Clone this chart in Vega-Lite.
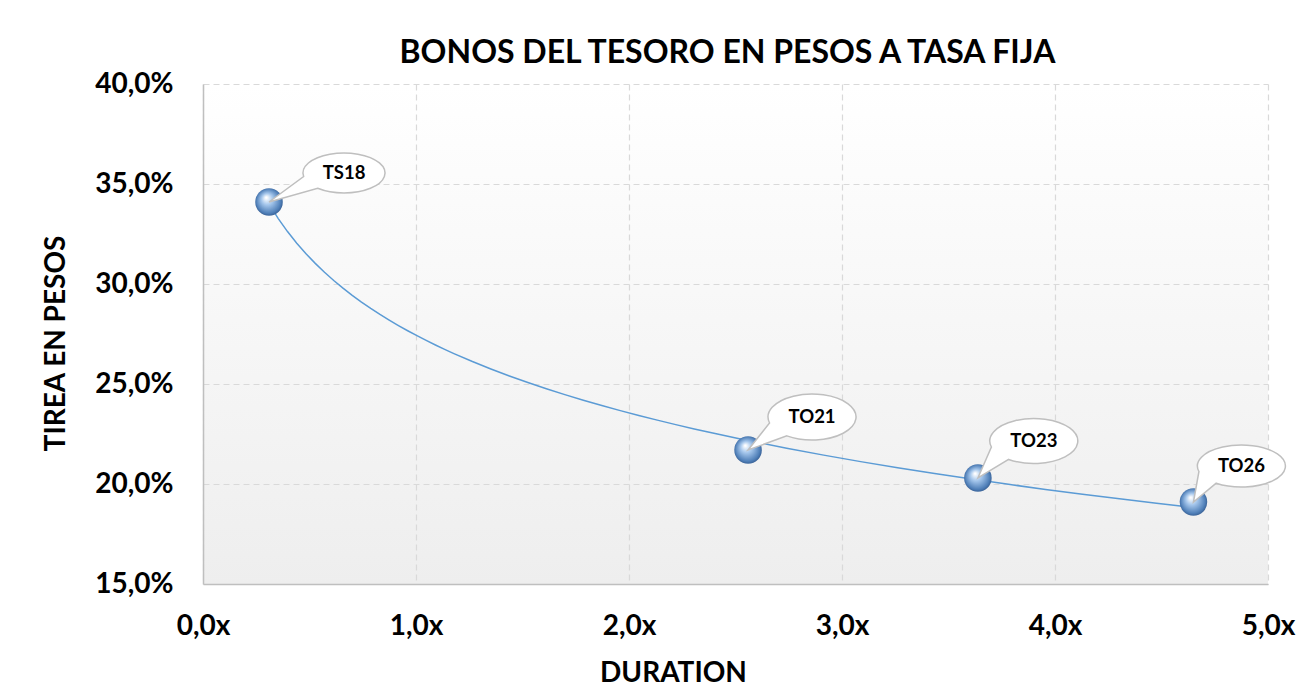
{
  "$schema": "https://vega.github.io/schema/vega-lite/v6.json",
  "width": 1065,
  "height": 500,
  "autosize": {"type": "none"},
  "padding": {"left": 203, "top": 84, "right": 39, "bottom": 107},
  "background": "white",
  "view": {
    "stroke": null,
    "fill": {
      "gradient": "linear",
      "x1": 0, "y1": 0, "x2": 0, "y2": 1,
      "stops": [
        {"offset": 0, "color": "#ffffff"},
        {"offset": 1, "color": "#eeeeee"}
      ]
    }
  },
  "title": {
    "text": "BONOS DEL TESORO EN PESOS A TASA FIJA",
    "font": "Lato",
    "fontSize": 32,
    "fontWeight": "bold",
    "color": "#000000",
    "anchor": "middle",
    "offset": 0,
    "dx": -8
  },
  "datasets": {
    "bonos": [
      {"bono": "TS18", "dur": 0.31, "tir": 0.341},
      {"bono": "TO21", "dur": 2.559, "tir": 0.217},
      {"bono": "TO23", "dur": 3.638, "tir": 0.203},
      {"bono": "TO26", "dur": 4.65, "tir": 0.191}
    ]
  },
  "data": {"name": "bonos"},
  "layer": [
    {
      "transform": [{"regression": "tir", "on": "dur", "method": "log"}],
      "mark": {"type": "line", "color": "#5b9bd5", "strokeWidth": 1.5},
      "encoding": {
        "x": {
          "field": "dur",
          "type": "quantitative",
          "scale": {"domain": [0, 5], "nice": false, "zero": false},
          "axis": {
            "title": "DURATION",
            "values": [0, 1, 2, 3, 4, 5],
            "labelExpr": "replace(format(datum.value, '.1f'), '.', ',') + 'x'",
            "labelFlush": false,
            "labelPadding": 28,
            "titlePadding": 19,
            "titleX": 470,
            "grid": true
          }
        },
        "y": {
          "field": "tir",
          "type": "quantitative",
          "scale": {"domain": [0.15, 0.4], "nice": false, "zero": false},
          "axis": {
            "title": "TIREA EN PESOS",
            "values": [0.15, 0.2, 0.25, 0.3, 0.35, 0.4],
            "format": ".1%",
            "labelFlush": false,
            "labelPadding": 30,
            "titlePadding": 24,
            "titleY": 259,
            "grid": true
          }
        }
      }
    },
    {
      "mark": {
        "type": "point",
        "filled": true,
        "size": 760,
        "opacity": 1,
        "strokeWidth": 0,
        "fill": {
          "gradient": "radial",
          "x1": 0.4, "y1": 0.34, "r1": 0.02,
          "x2": 0.5, "y2": 0.5, "r2": 0.55,
          "stops": [
            {"offset": 0, "color": "#ffffff"},
            {"offset": 0.35, "color": "#a6c7ec"},
            {"offset": 0.8, "color": "#4f7fb8"},
            {"offset": 1, "color": "#2f5385"}
          ]
        }
      },
      "encoding": {
        "x": {"field": "dur", "type": "quantitative"},
        "y": {"field": "tir", "type": "quantitative"}
      }
    },
    {
      "mark": {
        "type": "point",
        "filled": true,
        "size": 10000,
        "opacity": 1,
        "fill": "white",
        "stroke": "#bfbfbf",
        "strokeWidth": 1.5
      },
      "encoding": {
        "x": {"field": "dur", "type": "quantitative"},
        "y": {"field": "tir", "type": "quantitative"},
        "shape": {
          "field": "bono",
          "type": "nominal",
          "legend": null,
          "scale": {
            "domain": ["TS18", "TO21", "TO23", "TO26"],
            "range": [
              "M 0 0 L 0.692 -0.51 A 0.82 0.4 0 1 1 0.973 -0.274 Z",
              "M 0 0 L 0.43 -0.54 A 0.88 0.46 0 1 1 0.775 -0.283 Z",
              "M 0 0 L 0.27 -0.62 A 0.88 0.45 0 1 1 0.615 -0.371 Z",
              "M 0 0 L 0.11 -0.61 A 0.88 0.42 0 1 1 0.455 -0.376 Z"
            ]
          }
        }
      }
    },
    {
      "transform": [{"filter": "datum.bono == 'TS18'"}],
      "mark": {"type": "text", "font": "Lato", "fontSize": 18.5, "fontWeight": "bold", "color": "#000000", "dx": 75, "dy": -29, "align": "center", "baseline": "middle"},
      "encoding": {
        "x": {"field": "dur", "type": "quantitative"},
        "y": {"field": "tir", "type": "quantitative"},
        "text": {"field": "bono"}
      }
    },
    {
      "transform": [{"filter": "datum.bono == 'TO21'"}],
      "mark": {"type": "text", "font": "Lato", "fontSize": 18.5, "fontWeight": "bold", "color": "#000000", "dx": 64, "dy": -33, "align": "center", "baseline": "middle"},
      "encoding": {
        "x": {"field": "dur", "type": "quantitative"},
        "y": {"field": "tir", "type": "quantitative"},
        "text": {"field": "bono"}
      }
    },
    {
      "transform": [{"filter": "datum.bono == 'TO23'"}],
      "mark": {"type": "text", "font": "Lato", "fontSize": 18.5, "fontWeight": "bold", "color": "#000000", "dx": 56, "dy": -37, "align": "center", "baseline": "middle"},
      "encoding": {
        "x": {"field": "dur", "type": "quantitative"},
        "y": {"field": "tir", "type": "quantitative"},
        "text": {"field": "bono"}
      }
    },
    {
      "transform": [{"filter": "datum.bono == 'TO26'"}],
      "mark": {"type": "text", "font": "Lato", "fontSize": 18.5, "fontWeight": "bold", "color": "#000000", "dx": 48, "dy": -36, "align": "center", "baseline": "middle"},
      "encoding": {
        "x": {"field": "dur", "type": "quantitative"},
        "y": {"field": "tir", "type": "quantitative"},
        "text": {"field": "bono"}
      }
    }
  ],
  "config": {
    "locale": {
      "number": {"decimal": ",", "thousands": ".", "grouping": [3], "currency": ["$", ""]}
    },
    "axis": {
      "labelFont": "Lato",
      "labelFontSize": 28,
      "labelFontWeight": "bold",
      "labelColor": "#000000",
      "titleFont": "Lato",
      "titleFontSize": 28,
      "titleFontWeight": "bold",
      "titleColor": "#000000",
      "ticks": false,
      "domainColor": "#bfbfbf",
      "domainWidth": 1.5,
      "gridColor": "#d9d9d9",
      "gridDash": [6, 4],
      "gridWidth": 1.2
    }
  }
}
